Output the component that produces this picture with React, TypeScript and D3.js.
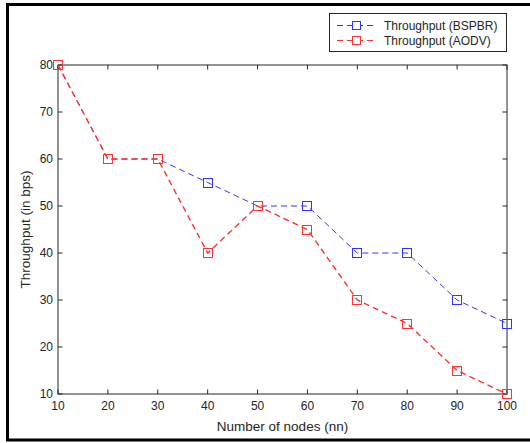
import React, { useEffect, useRef } from "react";
import * as d3 from "d3";

const nodes = [10, 20, 30, 40, 50, 60, 70, 80, 90, 100];
const bspbr = [80, 60, 60, 55, 50, 50, 40, 40, 30, 25];
const aodv = [80, 60, 60, 40, 50, 45, 30, 25, 15, 10];
const yTicks = [10, 20, 30, 40, 50, 60, 70, 80];
const seriesNames = ["Throughput (BSPBR)", "Throughput (AODV)"];
const seriesColors = ["#3333ff", "#ff3333"];

const W = 530;
const H = 443;
const font = "'Liberation Sans', Arial, Helvetica, sans-serif";

const App = () => {
  const svgRef = useRef<SVGSVGElement>(null);

  useEffect(() => {
    const svg = d3.select(svgRef.current);
    svg.selectAll("*").remove();

    // outer black frame (right edge is cropped off)
    svg.append("path")
      .attr("d", `M${W + 5},4.5 H7.5 V440 H${W + 5}`)
      .attr("fill", "none")
      .attr("stroke", "#000")
      .attr("stroke-width", 3);

    const left = 58, right = 507, top = 65, bottom = 394;
    const x = d3.scaleLinear().domain([10, 100]).range([left, right]);
    const y = d3.scaleLinear().domain([10, 80]).range([bottom, top]);

    const axisColor = "#262626";
    const tickLen = 4.5;

    // box
    svg.append("rect")
      .attr("x", left).attr("y", top)
      .attr("width", right - left).attr("height", bottom - top)
      .attr("fill", "none").attr("stroke", axisColor).attr("stroke-width", 1);

    const g = svg.append("g");
    // x ticks bottom + top
    nodes.forEach((v) => {
      g.append("line").attr("x1", x(v)).attr("x2", x(v))
        .attr("y1", bottom).attr("y2", bottom - tickLen).attr("stroke", axisColor);
      g.append("line").attr("x1", x(v)).attr("x2", x(v))
        .attr("y1", top).attr("y2", top + tickLen).attr("stroke", axisColor);
      g.append("text").attr("x", x(v)).attr("y", bottom + 16)
        .attr("text-anchor", "middle").attr("font-family", font)
        .attr("font-size", 12).attr("fill", axisColor).text(v);
    });
    // y ticks left + right
    yTicks.forEach((v) => {
      g.append("line").attr("x1", left).attr("x2", left + tickLen)
        .attr("y1", y(v)).attr("y2", y(v)).attr("stroke", axisColor);
      g.append("line").attr("x1", right).attr("x2", right - tickLen)
        .attr("y1", y(v)).attr("y2", y(v)).attr("stroke", axisColor);
      g.append("text").attr("x", left - 5).attr("y", y(v) + 4)
        .attr("text-anchor", "end").attr("font-family", font)
        .attr("font-size", 12).attr("fill", axisColor).text(v);
    });

    svg.append("text")
      .attr("x", (left + right) / 2).attr("y", 431)
      .attr("text-anchor", "middle").attr("font-family", font)
      .attr("font-size", 13.5).attr("fill", axisColor)
      .text("Number of nodes (nn)");
    svg.append("text")
      .attr("transform", `translate(30,${(top + bottom) / 2}) rotate(-90)`)
      .attr("text-anchor", "middle").attr("font-family", font)
      .attr("font-size", 13.5).attr("fill", axisColor)
      .text("Throughput (in bps)");

    const line = d3.line<number>()
      .x((_, i) => x(nodes[i]))
      .y((d) => y(d));

    [bspbr, aodv].forEach((data, k) => {
      const c = seriesColors[k];
      svg.append("path").datum(data)
        .attr("d", line)
        .attr("fill", "none").attr("stroke", c)
        .attr("stroke-width", k === 1 ? 1.4 : 1).attr("stroke-dasharray", "6,4");
      svg.selectAll(`.m${k}`).data(data).join("rect")
        .attr("class", `m${k}`)
        .attr("x", (_, i) => Math.round(x(nodes[i])) - 4.5)
        .attr("y", (d) => Math.round(y(d)) - 4.5)
        .attr("width", 9).attr("height", 9)
        .attr("fill", "none").attr("stroke", c).attr("stroke-width", 1);
    });

    // legend
    const lg = svg.append("g");
    lg.append("rect").attr("x", 329.5).attr("y", 13.5)
      .attr("width", 177).attr("height", 38)
      .attr("fill", "#fff").attr("stroke", axisColor).attr("stroke-width", 1);
    seriesNames.forEach((name, k) => {
      const ly = 25.5 + k * 15;
      const c = seriesColors[k];
      lg.append("line").attr("x1", 336).attr("x2", 377)
        .attr("y1", ly).attr("y2", ly)
        .attr("stroke", c).attr("stroke-dasharray", "6,4").attr("stroke-dashoffset", -1);
      lg.append("rect").attr("x", 352.5).attr("y", ly - 4)
        .attr("width", 8).attr("height", 8)
        .attr("fill", "#fff").attr("stroke", c);
      lg.append("text").attr("x", 384).attr("y", ly + 4.5)
        .attr("font-family", font).attr("font-size", 12)
        .attr("fill", axisColor).text(name);
    });
  }, []);

  return (
    <svg
      ref={svgRef}
      width={W}
      height={H}
      style={{ position: "absolute", left: 0, top: 0, background: "#fff" }}
    />
  );
};

export default App;
